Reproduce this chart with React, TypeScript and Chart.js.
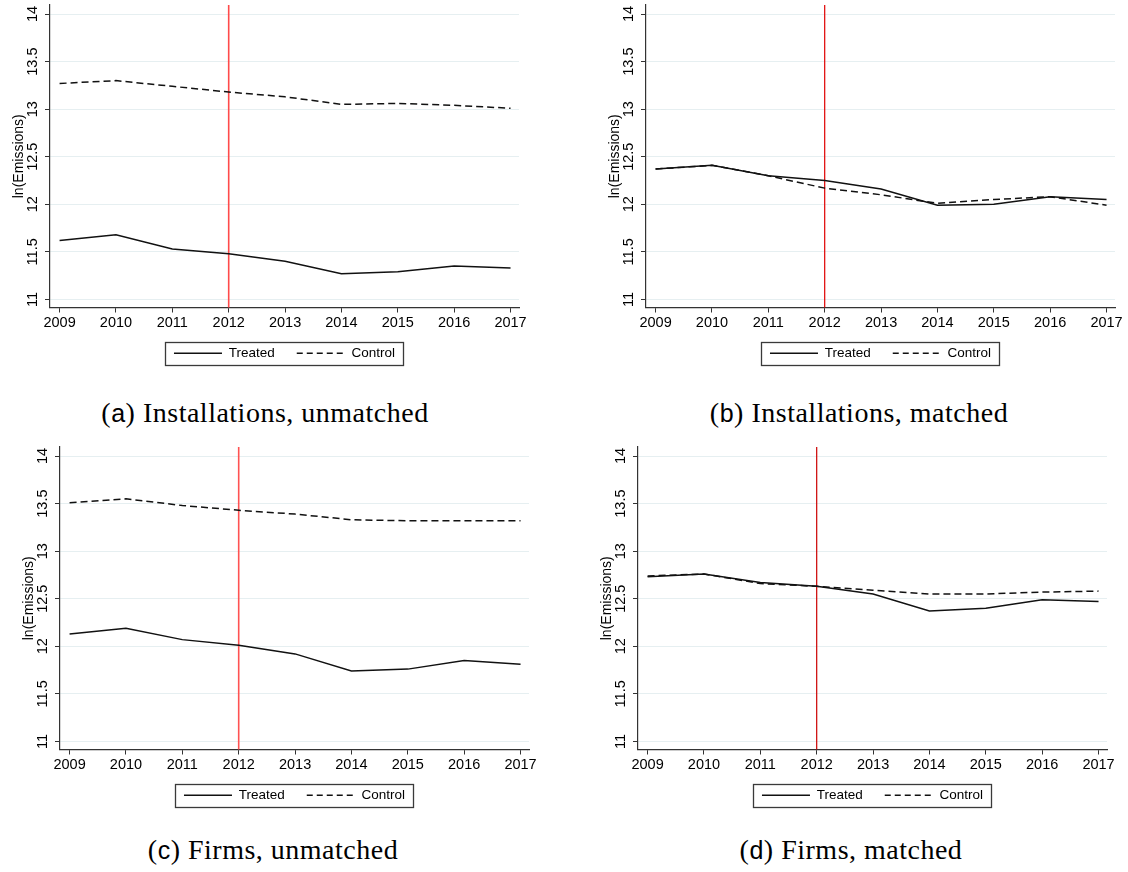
import React, { useEffect, useRef } from "react";
import { Chart, registerables } from "chart.js";

Chart.register(...registerables);

// ---------- data ----------
const YEARS = [2009, 2010, 2011, 2012, 2013, 2014, 2015, 2016, 2017];
const Y_TICKS = [11, 11.5, 12, 12.5, 13, 13.5, 14];
const Y_MIN = 10.915;
const Y_MAX = 14.095;
const X_MIN = 2008.83;
const X_MAX = 2017.15;
const TREATMENT_YEAR = 2012;
const SERIES_LABELS = ["Treated", "Control"];
const Y_TITLE = "ln(Emissions)";

const INST_UNMATCHED_TREATED = [11.62, 11.68, 11.53, 11.48, 11.40, 11.27, 11.29, 11.35, 11.33];
const INST_UNMATCHED_CONTROL = [13.27, 13.30, 13.24, 13.18, 13.13, 13.05, 13.06, 13.04, 13.01];

const INST_MATCHED_TREATED = [12.37, 12.41, 12.30, 12.25, 12.16, 11.99, 12.00, 12.08, 12.05];
const INST_MATCHED_CONTROL = [12.37, 12.41, 12.30, 12.17, 12.10, 12.01, 12.05, 12.08, 11.99];

const FIRM_UNMATCHED_TREATED = [12.13, 12.19, 12.07, 12.01, 11.92, 11.74, 11.76, 11.85, 11.81];
const FIRM_UNMATCHED_CONTROL = [13.51, 13.55, 13.48, 13.43, 13.39, 13.33, 13.32, 13.32, 13.32];

const FIRM_MATCHED_TREATED = [12.73, 12.76, 12.67, 12.63, 12.55, 12.37, 12.40, 12.49, 12.47];
const FIRM_MATCHED_CONTROL = [12.74, 12.76, 12.66, 12.63, 12.59, 12.55, 12.55, 12.57, 12.58];

const CAPTION_TAGS = ["a", "b", "c", "d"];
const CAPTION_TEXTS = [
  "Installations, unmatched",
  "Installations, matched",
  "Firms, unmatched",
  "Firms, matched",
];

// ---------- layout / style ----------
const CANVAS_W = 556;
const CANVAS_H = 372;
const PLOT_RIGHT = 519;
const PANEL_LAYOUT = [
  { left: 0, top: 0, capX: 265, capY: 397, red: "#ff4a4a", redW: 1.6 },
  { left: 596, top: 0, capX: 859, capY: 397, red: "#e00000", redW: 1.2 },
  { left: 10, top: 442, capX: 273, capY: 834, red: "#ff5252", redW: 1.6 },
  { left: 588, top: 442, capX: 851, capY: 834, red: "#cc0000", redW: 1.2 },
];
const PANEL_DATA = [
  [INST_UNMATCHED_TREATED, INST_UNMATCHED_CONTROL],
  [INST_MATCHED_TREATED, INST_MATCHED_CONTROL],
  [FIRM_UNMATCHED_TREATED, FIRM_UNMATCHED_CONTROL],
  [FIRM_MATCHED_TREATED, FIRM_MATCHED_CONTROL],
];

const SANS = "'Liberation Sans', Arial, sans-serif";
const SERIF = "'Liberation Serif', 'Times New Roman', serif";
const AXIS_COLOR = "#333333";
const GRID_COLOR = "#e6eff1";
const LINE_COLOR = "#111111";

function makeTreatmentLine(color: string, width: number) {
  return {
    id: "treatmentLine",
    beforeDatasetsDraw(chart: any) {
      const { ctx, chartArea, scales } = chart;
      const x = scales.x.getPixelForValue(TREATMENT_YEAR);
      ctx.save();
      ctx.strokeStyle = color;
      ctx.lineWidth = width;
      ctx.beginPath();
      ctx.moveTo(x, chartArea.top);
      ctx.lineTo(x, chartArea.bottom);
      ctx.stroke();
      ctx.restore();
    },
  };
}

const legendFrame = {
  id: "legendFrame",
  afterDraw(chart: any) {
    const lg = chart.legend;
    if (!lg || !lg.legendHitBoxes || !lg.legendHitBoxes.length) return;
    const hb = lg.legendHitBoxes;
    let l = Infinity, r = -Infinity, t = Infinity, b = -Infinity;
    hb.forEach((h: any) => {
      l = Math.min(l, h.left);
      r = Math.max(r, h.left + h.width);
      t = Math.min(t, h.top);
      b = Math.max(b, h.top + h.height);
    });
    const cy = (t + b) / 2;
    const ctx = chart.ctx;
    ctx.save();
    ctx.strokeStyle = "#3a3a3a";
    ctx.lineWidth = 1.3;
    ctx.strokeRect(Math.round(l - 9) + 0.5, Math.round(cy - 11.5) + 0.5, Math.round(r - l + 17), 23);
    ctx.restore();
  },
};

function Panel({ idx }: { idx: number }) {
  const ref = useRef<HTMLCanvasElement | null>(null);
  useEffect(() => {
    const layout = PANEL_LAYOUT[idx];
    const [treated, control] = PANEL_DATA[idx];
    const chart = new Chart(ref.current as HTMLCanvasElement, {
      type: "line",
      data: {
        datasets: [
          {
            label: SERIES_LABELS[0],
            data: YEARS.map((yr, i) => ({ x: yr, y: treated[i] })),
            borderColor: LINE_COLOR,
            backgroundColor: LINE_COLOR,
            borderWidth: 1.5,
            pointRadius: 0,
            tension: 0,
          },
          {
            label: SERIES_LABELS[1],
            data: YEARS.map((yr, i) => ({ x: yr, y: control[i] })),
            borderColor: LINE_COLOR,
            backgroundColor: LINE_COLOR,
            borderWidth: 1.5,
            borderDash: [7, 4],
            pointRadius: 0,
            tension: 0,
          },
        ],
      },
      options: {
        animation: false,
        responsive: false,
        maintainAspectRatio: false,
        events: [],
        layout: { padding: { top: 5, right: CANVAS_W - PLOT_RIGHT, left: 0, bottom: 2 } },
        plugins: {
          tooltip: { enabled: false },
          legend: {
            position: "bottom",
            fullSize: false,
            labels: {
              usePointStyle: true,
              pointStyle: "line",
              pointStyleWidth: 48,
              color: "#000",
              padding: 22,
              font: { family: SANS, size: 13.5 },
              generateLabels: (c: any) => {
                const items = (Chart as any).defaults.plugins.legend.labels.generateLabels(c);
                items.forEach((it: any) => {
                  const ds = c.data.datasets[it.datasetIndex];
                  it.lineDash = ds.borderDash ? [6, 4] : [];
                  it.lineWidth = 1.4;
                  it.strokeStyle = ds.borderColor;
                  it.fillStyle = ds.borderColor;
                });
                return items;
              },
            },
          },
        },
        scales: {
          x: {
            type: "linear",
            min: X_MIN,
            max: X_MAX,
            afterBuildTicks: (s: any) => {
              s.ticks = YEARS.map((v) => ({ value: v }));
            },
            afterFit: (s: any) => {
              s.height = 17;
              s.paddingLeft = 0;
              s.paddingRight = 0;
              // let tick labels extend below the (shortened) scale box
              s._computeLabelArea = () => undefined;
            },
            ticks: {
              callback: (v: any) => String(v),
              color: "#000",
              font: { family: SANS, size: 14.5 },
              padding: 2,
              minRotation: 0,
              maxRotation: 0,
              autoSkip: false,
            },
            grid: { drawOnChartArea: false, tickLength: 5, tickColor: AXIS_COLOR, color: AXIS_COLOR },
            border: { color: AXIS_COLOR, width: 1.2 },
          },
          y: {
            type: "linear",
            min: Y_MIN,
            max: Y_MAX,
            afterBuildTicks: (s: any) => {
              s.ticks = Y_TICKS.map((v) => ({ value: v }));
            },
            afterFit: (s: any) => {
              s.width = 50;
              s.paddingTop = 0;
              s.paddingBottom = 0;
            },
            ticks: {
              callback: (v: any) => String(v),
              color: "#000",
              font: { family: SANS, size: 14.5 },
              minRotation: 90,
              maxRotation: 90,
              crossAlign: "center",
              padding: -2,
            },
            grid: { color: GRID_COLOR, tickLength: 5, tickColor: AXIS_COLOR, lineWidth: 1 },
            border: { color: AXIS_COLOR, width: 1.2 },
            title: {
              display: true,
              text: Y_TITLE,
              color: "#000",
              font: { family: SANS, size: 14 },
              padding: { top: 11, bottom: 0 },
            },
          },
        },
      },
      plugins: [makeTreatmentLine(layout.red, layout.redW), legendFrame],
    } as any);
    return () => chart.destroy();
  }, [idx]);

  const layout = PANEL_LAYOUT[idx];
  return (
    <>
      <canvas
        ref={ref}
        width={CANVAS_W}
        height={CANVAS_H}
        style={{ position: "absolute", left: layout.left, top: layout.top, width: CANVAS_W, height: CANVAS_H }}
      />
      <div
        style={{
          position: "absolute",
          left: layout.capX - 250,
          width: 500,
          top: layout.capY,
          textAlign: "center",
          fontFamily: SERIF,
          fontSize: 28,
          letterSpacing: "0.5px",
          lineHeight: "32px",
          color: "#000",
          whiteSpace: "nowrap",
        }}
      >
        (<span style={{ fontFamily: SANS, fontSize: 25 }}>{CAPTION_TAGS[idx]}</span>) {CAPTION_TEXTS[idx]}
      </div>
    </>
  );
}

export default function App() {
  return (
    <div style={{ position: "absolute", left: 0, top: 0, width: 1128, height: 872, background: "#fff", overflow: "hidden" }}>
      {[0, 1, 2, 3].map((i) => (
        <Panel key={i} idx={i} />
      ))}
    </div>
  );
}
